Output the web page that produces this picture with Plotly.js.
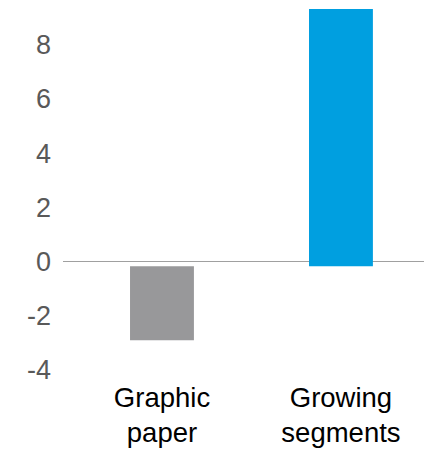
<!DOCTYPE html>
<html>
<head>
<meta charset="utf-8">
<script src="https://cdn.plot.ly/plotly-3.0.1.min.js"></script>
<style>html,body{margin:0;padding:0;background:#fff;}#chart{width:424px;height:451px;}</style>
</head>
<body>
<div id="chart"></div>
<script>
const categories = ["Graphic<br>paper", "Growing<br>segments"];
const barEnds = [-2.9, 9.5];
const barBase = [-0.17, -0.17];
const barColors = ["#98989a", "#009fe0"];
const yTickVals = [-4, -2, 0, 2, 4, 6, 8];
const yTickText = ["-4", "-2", "0", "2", "4", "6", "8"];

const lengths = barEnds.map((v, i) => v - barBase[i]);

const trace = {
  type: "bar",
  x: categories,
  y: lengths,
  base: barBase,
  width: 0.357,
  marker: { color: barColors, line: { width: 0 } },
  hoverinfo: "none"
};

const layout = {
  width: 424,
  height: 451,
  margin: { l: 63, r: 0, t: 9, b: 81 },
  paper_bgcolor: "#fff",
  plot_bgcolor: "#fff",
  showlegend: false,
  font: { family: "Liberation Sans, Arial, sans-serif" },
  xaxis: {
    type: "category",
    range: [-0.553, 1.464],
    showgrid: false,
    showline: false,
    zeroline: false,
    ticks: "",
    tickfont: { size: 27.5, color: "#000" },
    ticklabelstandoff: 8
  },
  yaxis: {
    range: [-4, 9.32],
    tickvals: yTickVals,
    ticktext: yTickText,
    showgrid: false,
    showline: false,
    zeroline: true,
    zerolinecolor: "#a0a0a0",
    zerolinewidth: 1.5,
    layer: "above traces",
    ticks: "",
    tickfont: { size: 27, color: "#595959" },
    ticklabelstandoff: 11
  }
};

Plotly.newPlot("chart", [trace], layout, { displayModeBar: false, staticPlot: true });
</script>
</body>
</html>
